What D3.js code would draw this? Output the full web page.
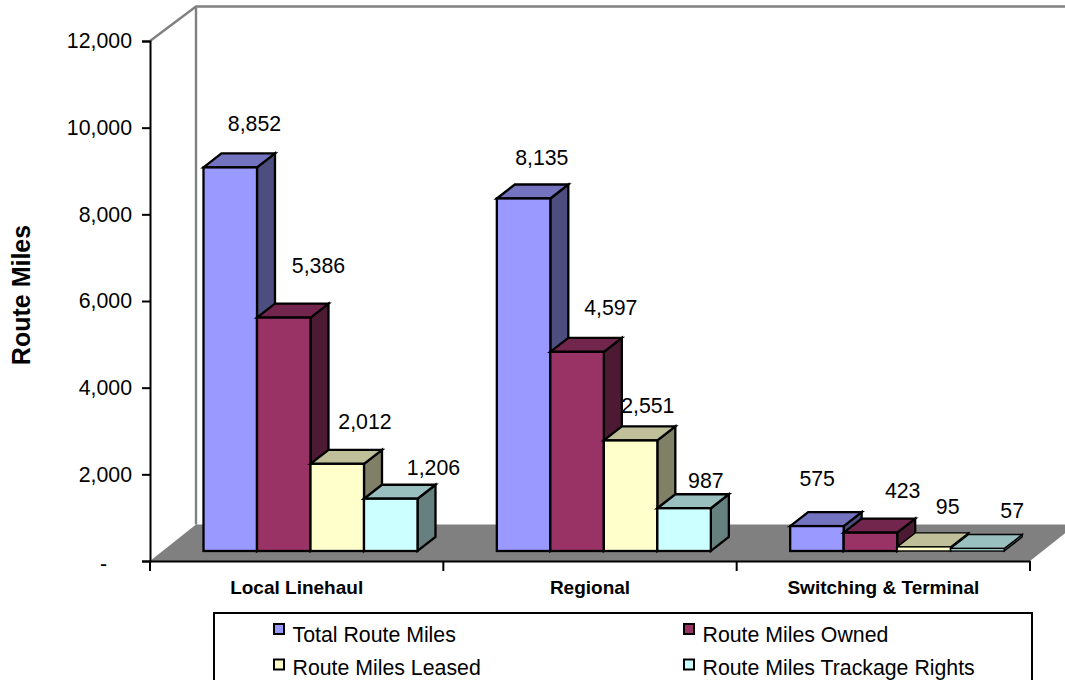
<!DOCTYPE html>
<html>
<head>
<meta charset="utf-8">
<script src="https://cdn.jsdelivr.net/npm/d3@7/dist/d3.min.js"></script>
<style>
  html, body { margin: 0; padding: 0; background: #fff; overflow: hidden; }
  svg { display: block; font-family: "Liberation Sans", Arial, sans-serif; }
</style>
</head>
<body>
<svg id="chart" width="1065" height="680"></svg>
<script>
// Route miles by railroad class
const categories = ["Local Linehaul", "Regional", "Switching & Terminal"];
const seriesNames = ["Total Route Miles", "Route Miles Owned", "Route Miles Leased", "Route Miles Trackage Rights"];
const totalRouteMiles = [8852, 8135, 575];
const routeMilesOwned = [5386, 4597, 423];
const routeMilesLeased = [2012, 2551, 95];
const routeMilesTrackage = [1206, 987, 57];
const seriesValues = [totalRouteMiles, routeMilesOwned, routeMilesLeased, routeMilesTrackage];
const yTicks = [0, 2000, 4000, 6000, 8000, 10000, 12000];

// Hand-placed value label offsets, per category then per series, from each bar's front top-left corner
const labelOffsets = [
  [[51, -44], [61.5, -52], [54.5, -42], [69.5, -31]],
  [[45, -41], [60.5, -44], [44, -35], [48.5, -28]],
  [[27, -48], [59, -42], [50.5, -41], [61.5, -38]]
];

const frontFaces = ["#9999FF", "#993366", "#FFFFCC", "#CCFFFF"];
const topFaces = ["#7373BF", "#73264D", "#BFBF99", "#99BFBF"];
const sideFaces = ["#4D4D80", "#4D1A33", "#808066", "#668080"];

const plot = { left: 150, right: 1030, top: 41, bottom: 561 };
const wall = { dx: 46, topDy: -34.5, floorDy: -36.5 };   // depth of the back wall and floor
const bar = { dx: 18, dy: -14, lift: 10, inset: 53.5, span: 214, stroke: 2.3, thinStroke: 1.4, thinBelow: 5 };

const svg = d3.select("#chart");
const y = d3.scaleLinear().domain([0, 12000]).range([plot.bottom, plot.top]);
const x = d3.scaleBand().domain(categories).range([plot.left, plot.right]);
const xSeries = d3.scaleBand().domain(seriesNames).range([0, bar.span]);

const poly = pts => pts.map(p => p.join(",")).join(" ");

// Floor and back wall
svg.append("polygon")
  .attr("points", poly([
    [plot.left, plot.bottom], [plot.right, plot.bottom],
    [plot.right + wall.dx, plot.bottom + wall.floorDy], [plot.left + wall.dx, plot.bottom + wall.floorDy]
  ]))
  .attr("fill", "#808080");

svg.append("path")
  .attr("d", `M${plot.left},${plot.top}L${plot.left + wall.dx},${plot.top + wall.topDy}` +
             `H${plot.right + wall.dx}M${plot.left + wall.dx},${plot.top + wall.topDy}V${plot.bottom + wall.floorDy}`)
  .attr("fill", "none").attr("stroke", "#808080").attr("stroke-width", 2.4);

// Bars: each is a front face, a top face and a right side face.
// Very short bars get a lighter outline so their front face stays visible.
const barLayer = svg.append("g").attr("stroke", "#000").attr("stroke-linejoin", "miter");
categories.forEach((cat, c) => {
  seriesNames.forEach((name, s) => {
    const v = seriesValues[s][c];
    const x0 = x(cat) + bar.inset + xSeries(name);
    const x1 = x0 + xSeries.bandwidth();
    const yb = plot.bottom - bar.lift;
    const yt = y(v) - bar.lift;
    const g = barLayer.append("g")
      .attr("stroke-width", yb - yt < bar.thinBelow ? bar.thinStroke : bar.stroke);
    g.append("polygon")
      .attr("points", poly([[x1, yt], [x1 + bar.dx, yt + bar.dy], [x1 + bar.dx, yb + bar.dy], [x1, yb]]))
      .attr("fill", sideFaces[s]);
    g.append("polygon")
      .attr("points", poly([[x0, yt], [x0 + bar.dx, yt + bar.dy], [x1 + bar.dx, yt + bar.dy], [x1, yt]]))
      .attr("fill", topFaces[s]);
    g.append("rect")
      .attr("x", x0).attr("y", yt).attr("width", x1 - x0).attr("height", yb - yt)
      .attr("fill", frontFaces[s]);
  });
});

// Value labels
categories.forEach((cat, c) => {
  seriesNames.forEach((name, s) => {
    const v = seriesValues[s][c];
    svg.append("text")
      .attr("x", x(cat) + bar.inset + xSeries(name) + labelOffsets[c][s][0])
      .attr("y", y(v) - bar.lift + labelOffsets[c][s][1])
      .attr("dy", "0.36em")
      .attr("text-anchor", "middle")
      .attr("font-size", 21.3)
      .attr("fill", "#000")
      .text(d3.format(",")(v));
  });
});

// Axes
const yAxis = d3.axisLeft(y)
  .tickValues(yTicks)
  .tickSize(8)
  .tickPadding(10)
  .tickFormat(d => d === 0 ? "-" : d3.format(",")(d));
const yG = svg.append("g").attr("transform", `translate(${plot.left},0)`).call(yAxis);
yG.selectAll("text").attr("font-size", 21.3).attr("font-family", null).attr("fill", "#000");
// The zero mark sits further out than the other tick labels
yG.selectAll(".tick text").filter(d => d === 0).attr("dx", -25).attr("dy", "0.45em");

const xAxis = d3.axisBottom(x).tickSize(0).tickPadding(20);
const xG = svg.append("g").attr("transform", `translate(0,${plot.bottom})`).call(xAxis);
xG.selectAll("text").attr("font-size", 19).attr("font-weight", "bold").attr("font-family", null).attr("fill", "#000");

// Ticks on the category axis sit on band boundaries
const xEdges = categories.map(c => x(c)).concat(plot.right);
xG.selectAll("line.edge").data(xEdges).join("line")
  .attr("class", "edge")
  .attr("x1", d => d).attr("x2", d => d).attr("y1", 0).attr("y2", 10)
  .attr("stroke", "#000");

svg.selectAll(".domain").attr("stroke", "#000").attr("stroke-width", 2);
svg.selectAll(".tick line, line.edge").attr("stroke", "#000").attr("stroke-width", 2);

// Value axis title
svg.append("text")
  .attr("transform", "translate(21,295) rotate(-90)")
  .attr("dy", "0.36em")
  .attr("text-anchor", "middle")
  .attr("font-size", 25)
  .attr("font-weight", "bold")
  .text("Route Miles");

// Legend box runs off the bottom edge of the page
svg.append("rect")
  .attr("x", 214).attr("y", 613).attr("width", 818).attr("height", 75)
  .attr("fill", "#fff").attr("stroke", "#000").attr("stroke-width", 2);

const legendColumns = [274, 684];
const legendRows = [624, 659.5];
const legendTextRows = [634, 667];
seriesNames.forEach((name, s) => {
  const col = s % 2, row = Math.floor(s / 2);
  svg.append("rect")
    .attr("x", legendColumns[col]).attr("y", legendRows[row]).attr("width", 10).attr("height", 10)
    .attr("fill", frontFaces[s]).attr("stroke", "#000").attr("stroke-width", 2);
  svg.append("text")
    .attr("x", legendColumns[col] + 18.5).attr("y", legendTextRows[row])
    .attr("dy", "0.36em")
    .attr("font-size", 21.3)
    .text(name);
});
</script>
</body>
</html>
